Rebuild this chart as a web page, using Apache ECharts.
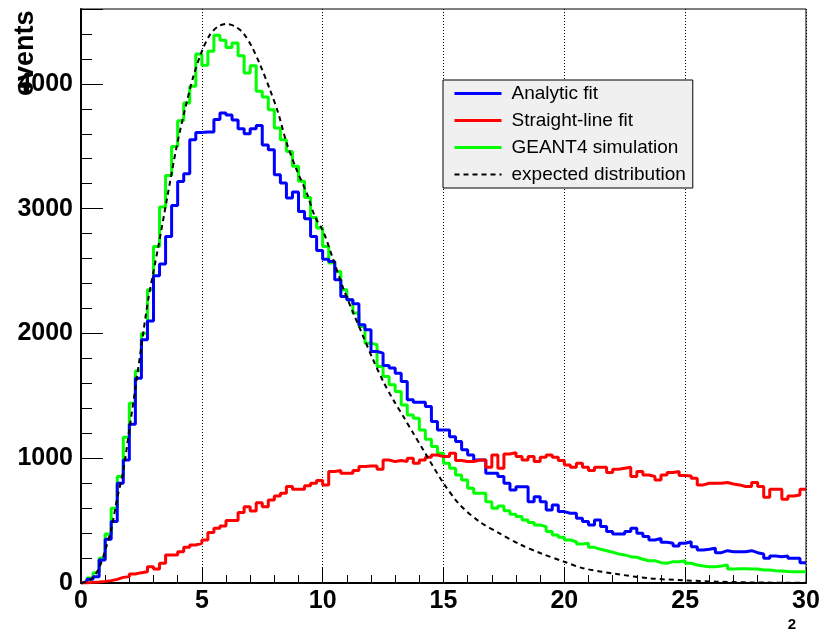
<!DOCTYPE html>
<html>
<head>
<meta charset="utf-8">
<script src="https://cdn.jsdelivr.net/npm/echarts@6/dist/echarts.min.js"></script>
<style>
  html, body { margin: 0; padding: 0; background: #fff; }
  #main { width: 828px; height: 632px; }
</style>
</head>
<body>
<div id="main"></div>
<script>
// histogram bins: 120 bins of width 0.25 from 0 to 30
var binWidth = 0.25;

var analyticFit = [
  10, 30, 51, 184, 350, 492, 800, 986, 1273, 1640,
  1950, 2100, 2462, 2556, 2777, 3026, 3218, 3280, 3553, 3610,
  3615, 3615, 3715, 3767, 3750, 3710, 3640, 3600, 3640, 3667,
  3510, 3472, 3272, 3205, 3085, 3133, 2978, 2919, 2777, 2665,
  2595, 2577, 2430, 2296, 2269, 2237, 2069, 2029, 1855, 1842,
  1743, 1722, 1681, 1614, 1468, 1449, 1449, 1414, 1294, 1227,
  1227, 1173, 1133, 1067, 1026, 986, 986, 880, 880, 853,
  799, 746, 772, 772, 652, 692, 652, 585, 625, 572,
  559, 559, 519, 492, 465, 505, 452, 412, 393, 393,
  412, 438, 398, 372, 345, 358, 326, 318, 297, 318,
  331, 291, 265, 270, 278, 243, 259, 251, 251, 251,
  259, 243, 233, 198, 217, 211, 217, 198, 198, 163
];

var straightLineFit = [
  0, 5, 8, 13, 19, 29, 45, 51, 72, 83,
  90, 131, 112, 158, 225, 225, 251, 286, 305, 318,
  345, 404, 438, 457, 500, 500, 564, 612, 577, 644,
  612, 666, 698, 719, 773, 751, 751, 780, 799, 821,
  786, 893, 901, 880, 880, 901, 933, 938, 938, 912,
  986, 973, 981, 973, 1000, 960, 986, 1008, 1026, 1013,
  1013, 1040, 981, 973, 973, 986, 986, 928, 1026, 919,
  1034, 1045, 1013, 986, 1013, 973, 1008, 1026, 1008, 981,
  946, 928, 960, 928, 901, 928, 928, 885, 912, 920,
  928, 853, 893, 866, 853, 826, 866, 885, 893, 861,
  858, 839, 786, 799, 799, 799, 805, 794, 786, 773,
  773, 805, 773, 687, 751, 751, 671, 698, 706, 751
];

var geant4Sim = [
  10, 40, 83, 198, 393, 599, 853, 1168, 1441, 1700,
  2000, 2350, 2697, 3013, 3266, 3499, 3705, 3847, 3980, 4240,
  4150, 4261, 4390, 4350, 4292, 4328, 4226, 4087, 4146, 3940,
  3895, 3793, 3646, 3553, 3459, 3339, 3220, 3090, 2930, 2844,
  2697, 2564, 2497, 2350, 2269, 2163, 2056, 1922, 1909, 1735,
  1655, 1588, 1534, 1427, 1347, 1321, 1227, 1152, 1093, 1040,
  960, 919, 866, 826, 759, 719, 719, 652, 599, 617,
  580, 551, 532, 505, 484, 465, 452, 412, 385, 366,
  345, 331, 313, 318, 286, 270, 259, 246, 233, 225,
  211, 206, 190, 179, 179, 163, 158, 171, 171, 179,
  158, 144, 136, 131, 131, 136, 144, 112, 115, 115,
  112, 112, 104, 104, 99, 96, 93, 91, 91, 91
];

// expected distribution
var expectedX = [0, 0.25, 0.5, 0.75, 1.0, 1.25, 1.5, 1.75, 2.0, 2.25, 2.5, 2.78, 3.2, 3.55, 3.96, 4.3, 4.65, 5.0, 5.34, 5.68,
  6.0, 6.37, 6.71, 7.06, 7.41, 7.82, 8.16, 8.51, 8.92, 9.34, 9.68, 10.03, 10.44, 10.85, 11.27, 11.68, 12.09, 12.51, 12.92, 13.34,
  13.75, 14.16, 15.0, 15.68, 16.5, 17.3, 18.16, 19.0, 20.0, 20.78, 22.16, 23.54, 24.92, 26.3, 27.7, 29.1, 30];
var expectedY = [0, 10, 45, 120, 260, 430, 680, 900, 1230, 1560, 1900, 2270, 2697, 3071, 3499, 3793, 4060, 4261, 4395, 4461,
  4480, 4461, 4408, 4301, 4154, 3953, 3767, 3526, 3312, 3125, 2937, 2815, 2590, 2363, 2163, 1975, 1788, 1614, 1468, 1334,
  1200, 1067, 800, 626, 490, 400, 310, 240, 170, 118, 72, 37, 22, 11, 5, 2, 1];

var xTicks = [0, 5, 10, 15, 20, 25, 30];
var yTicks = [0, 1000, 2000, 3000, 4000];

function histPoints(vals) {
  var pts = [[0, 0]];
  for (var i = 0; i < vals.length; i++) {
    pts.push([i * binWidth, vals[i]]);
  }
  pts.push([vals.length * binWidth, vals[vals.length - 1]]);
  return pts;
}

function curvePoints(xs, ys) {
  var pts = [];
  for (var i = 0; i < xs.length; i++) pts.push([xs[i], ys[i]]);
  return pts;
}

var font = 'Liberation Sans';
var myChart = echarts.init(document.getElementById('main'), null, {renderer: 'canvas'});

var option = {
  animation: false,
  backgroundColor: '#ffffff',
  grid: {
    left: 81, right: 22, top: 9, bottom: 49,
    show: true, borderColor: '#000', borderWidth: 1, backgroundColor: 'transparent'
  },
  legend: {
    orient: 'vertical',
    left: 443, top: 80,
    padding: [4, 7, 4, 10],
    backgroundColor: '#f0f0f0',
    borderColor: '#000', borderWidth: 1,
    itemWidth: 47, itemHeight: 14, itemGap: 8,
    textStyle: { fontFamily: font, fontSize: 19, color: '#000', padding: [0, 0, 0, 5] },
    itemStyle: { opacity: 0 },
    lineStyle: { width: 3 },
    data: [
      {name: 'Analytic fit'},
      {name: 'Straight-line fit'},
      {name: 'GEANT4 simulation'},
      {name: 'expected distribution', lineStyle: {width: 2}}
    ]
  },
  xAxis: {
    type: 'value', min: xTicks[0], max: xTicks[xTicks.length - 1], interval: 5,
    axisLine: { lineStyle: { color: '#000', width: 2 } },
    axisTick: { inside: true, length: 16, lineStyle: { color: '#000', width: 1 } },
    minorTick: { show: true, splitNumber: 5, length: 8, lineStyle: { color: '#000', width: 1 } },
    splitLine: { show: true, lineStyle: { color: '#000', width: 1, type: [1, 2] } },
    axisLabel: { fontFamily: font, fontWeight: 'bold', fontSize: 25, color: '#000', margin: 6,
      showMinLabel: true, showMaxLabel: true }
  },
  yAxis: [
    {
      type: 'value', min: 0, max: 4600, interval: 1000,
      axisLine: { show: true, lineStyle: { color: '#000', width: 2 } },
      axisTick: { inside: true, length: 22, lineStyle: { color: '#000', width: 1 } },
      splitLine: { show: false },
      axisLabel: { fontFamily: font, fontWeight: 'bold', fontSize: 25, color: '#000', margin: 8,
        formatter: function (v) { return yTicks.indexOf(v) >= 0 ? String(v) : ''; } }
    },
    {
      type: 'value', min: 0, max: 4600, interval: 200, position: 'left',
      axisLine: { show: false },
      axisTick: { inside: true, length: 11, lineStyle: { color: '#000', width: 1 } },
      splitLine: { show: false },
      axisLabel: { show: false }
    }
  ],
  graphic: [
    {
      type: 'text', x: 26, y: 96, rotation: Math.PI / 2,
      style: { text: 'events', font: 'bold 27px "Liberation Sans"', fill: '#000',
        textAlign: 'left', textVerticalAlign: 'middle' }
    },
    {
      type: 'text', x: 792, y: 625,
      style: { text: '2', font: 'bold 15px "Liberation Sans"', fill: '#000',
        textAlign: 'center', textVerticalAlign: 'middle' }
    }
  ],
  series: [
    {
      name: 'GEANT4 simulation', type: 'line', step: 'end', symbol: 'none',
      data: histPoints(geant4Sim), color: '#00ff00',
      lineStyle: { color: '#00ff00', width: 3 }
    },
    {
      name: 'Analytic fit', type: 'line', step: 'end', symbol: 'none',
      data: histPoints(analyticFit), color: '#0000ff',
      lineStyle: { color: '#0000ff', width: 3 }
    },
    {
      name: 'Straight-line fit', type: 'line', step: 'end', symbol: 'none',
      data: histPoints(straightLineFit), color: '#ff0000',
      lineStyle: { color: '#ff0000', width: 3 }
    },
    {
      name: 'expected distribution', type: 'line', smooth: 0.3, symbol: 'none',
      data: curvePoints(expectedX, expectedY), color: '#000000',
      lineStyle: { color: '#000000', width: 2, type: [5, 4] }
    }
  ]
};
myChart.setOption(option);
</script>
</body>
</html>
